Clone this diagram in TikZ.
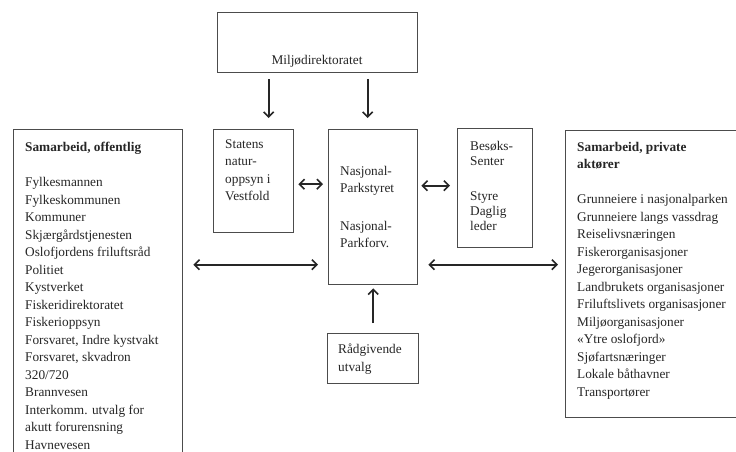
\documentclass[tikz,border=0pt]{standalone}
\usepackage{fontspec}
\setmainfont{Liberation Serif}
\usetikzlibrary{arrows.meta,calc}
\begin{document}
\begin{tikzpicture}[x=1pt,y=-1pt,
  box/.style={draw=black!70, line width=1.4pt, inner sep=0pt, anchor=north west},
  txt/.style={anchor=north west, inner sep=0pt, align=left, text=black!85, font=\fontsize{13.3}{17.5}\selectfont},
  tip/.style={},
  arr/.style={-{Straight Barb[length=5pt,width=10pt]}, line width=1.6pt, draw=black!85},
  dbl/.style={{Straight Barb[length=5pt,width=10pt]}-{Straight Barb[length=5pt,width=10pt]}, line width=1.6pt, draw=black!85}]
\useasboundingbox (0,0) rectangle (736,452);
\clip (0,0) rectangle (736,452);
\fill[white] (0,0) rectangle (736,452);

% boxes
\node[box, minimum width=200pt, minimum height=60pt] (miljo) at (217,12) {};
\node[box, minimum width=80pt, minimum height=103pt] (statens) at (213,129) {};
\node[box, minimum width=89pt, minimum height=155pt] (center) at (328,129) {};
\node[box, minimum width=75pt, minimum height=119pt] (besok) at (457,128) {};
\node[box, minimum width=91pt, minimum height=50pt] (raad) at (327,333) {};
\node[box, minimum width=169pt, minimum height=340pt] (left) at (13,129) {};
\node[box, minimum width=190pt, minimum height=287pt] (right) at (565,130) {};

% texts
\node[txt, anchor=base] (miljot) at (317,64) {Miljødirektoratet};
\node[txt] (statenst) at (225,139) {Statens\\natur-\\oppsyn i\\Vestfold};
\node[txt] (centert) at (340,166) {Nasjonal-\\Parkstyret\\[20pt]Nasjonal-\\Parkforv.};
\node[txt, font=\fontsize{13.3}{15}\selectfont] (besokt) at (470,141) {Besøks-\\Senter\\[20pt]Styre\\Daglig\\leder};
\node[txt] (raadt) at (338,344) {Rådgivende\\utvalg};
\node[txt] (leftt) at (25,142) {\textbf{Samarbeid, offentlig}\\[17.5pt]
Fylkesmannen\\Fylkeskommunen\\Kommuner\\Skjærgårdstjenesten\\Oslofjordens friluftsråd\\Politiet\\Kystverket\\Fiskeridirektoratet\\Fiskerioppsyn\\Forsvaret, Indre kystvakt\\Forsvaret, skvadron\\320/720\\Brannvesen\\Interkomm. utvalg for\\akutt forurensning\\Havnevesen};
\node[txt] (rightt) at (577,142) {\textbf{Samarbeid, private}\\\textbf{aktører}\\[17.5pt]
Grunneiere i nasjonalparken\\Grunneiere langs vassdrag\\Reiselivsnæringen\\Fiskerorganisasjoner\\Jegerorganisasjoner\\Landbrukets organisasjoner\\Friluftslivets organisasjoner\\Miljøorganisasjoner\\«Ytre oslofjord»\\Sjøfartsnæringer\\Lokale båthavner\\Transportører};

% connectors
\draw[arr, shorten <=6pt, shorten >=11pt] ([xshift=15pt]statens.north |- miljo.south) -- ([xshift=15pt]statens.north);
\draw[arr, shorten <=6pt, shorten >=11pt] ([xshift=-5.5pt]center.north |- miljo.south) -- ([xshift=-5.5pt]center.north);
\draw[dbl, shorten <=4pt, shorten >=5pt] ([yshift=-3pt]statens.east) -- ([yshift=-3pt]statens.east -| center.west);
\draw[dbl, shorten <=3pt, shorten >=7pt] ([yshift=2.5pt]besok.west -| center.east) -- ([yshift=2.5pt]besok.west);
\draw[dbl, shorten <=10pt, shorten >=10pt] ([yshift=-57.5pt]center.west -| left.east) -- ([yshift=-57.5pt]center.west);
\draw[dbl, shorten <=10pt, shorten >=7pt] ([yshift=-57.5pt]center.east) -- ([yshift=-57.5pt]center.east -| right.west);
\draw[arr, shorten <=10pt, shorten >=3pt] (raad.north) -- (raad.north |- center.south);
\end{tikzpicture}
\end{document}
